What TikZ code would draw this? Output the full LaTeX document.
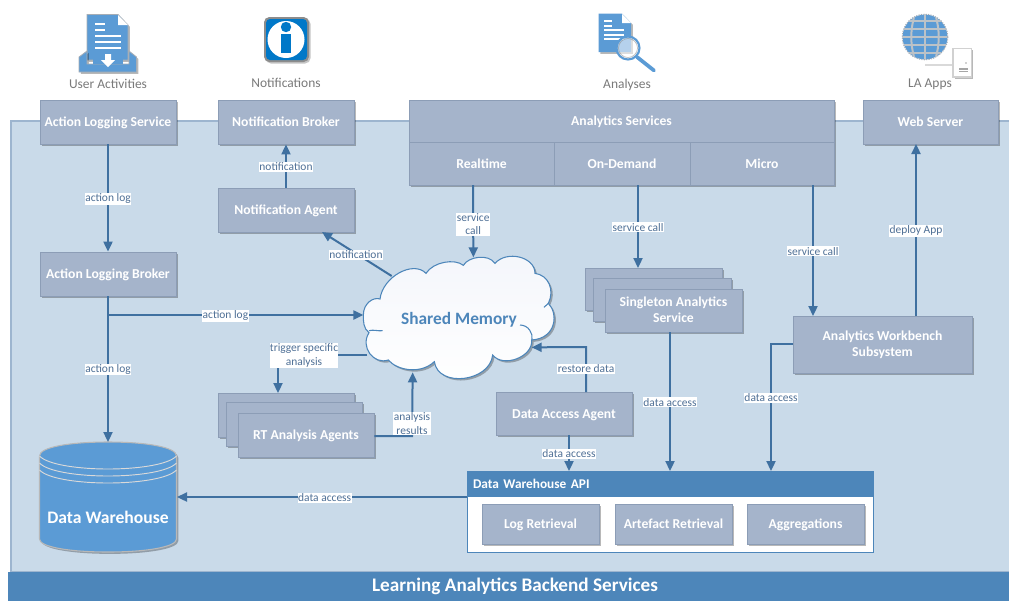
\documentclass[tikz,border=0pt]{standalone}
\usepackage{fontspec}
\setmainfont{Carlito}
\usetikzlibrary{arrows.meta,shadows,calc}
\definecolor{boxfill}{HTML}{A5B4CB}
\definecolor{boxline}{HTML}{8C9DB6}
\definecolor{bgfill}{HTML}{C9DAE9}
\definecolor{bgline}{HTML}{9DB5CF}
\definecolor{band}{HTML}{4D86BA}
\definecolor{wire}{HTML}{3F70A0}
\definecolor{ltext}{HTML}{4F7096}
\definecolor{iconblue}{HTML}{5B9BD5}
\definecolor{icongrey}{HTML}{A6ADB5}
\definecolor{notif}{HTML}{0078C8}
\definecolor{cloudtop}{HTML}{F4F6FB}
\tikzset{
  softshadow/.style={drop shadow={shadow xshift=1.4pt,shadow yshift=-1.4pt,fill=black,opacity=.28}},
  svcbox/.style={draw=boxline,line width=.7pt,fill=boxfill,text=white,font=\bfseries\fontsize{10.25}{12}\selectfont,align=center,inner sep=0pt,softshadow,execute at begin node={\vphantom{Ag}\rule{0pt}{9pt}}},
  twoline/.style={execute at begin node={\vphantom{Ag}}},
  plainbox/.style={draw=boxline,line width=.7pt,fill=boxfill,inner sep=0pt,softshadow},
  wired/.style={draw=wire,line width=1.5pt,-{Triangle[length=7.5pt,width=6.8pt]}},
  lbl/.style={fill=white,text=ltext,font=\fontsize{8.6}{10.2}\selectfont,align=center,inner xsep=.3pt,inner ysep=.6pt,yshift=-.6pt},
  toplabel/.style={text=black!52,font=\fontsize{10.1}{12}\selectfont,inner sep=0pt},
}
\newcommand{\bx}[6]{\node[#1,minimum width=#5*0.75pt-#3*0.75pt,minimum height=#6*0.75pt-#4*0.75pt] (#2) at ({(#3+#5)/2},{(#4+#6)/2})}
\begin{document}
\begin{tikzpicture}[x=0.75pt,y=-0.75pt]
\useasboundingbox (0,0) rectangle (1009,601);
% background
\fill[white] (0,0) rectangle (1009,601);
\node[draw=bgline,fill=bgfill,line width=.8pt,inner sep=0pt,minimum width=1010*0.75pt,minimum height=451*0.75pt] (bg) at (516,346.5) {};
\node[fill=band,text=white,font=\bfseries\fontsize{14.4}{17}\selectfont,inner sep=0pt,minimum width=1001*0.75pt,minimum height=29*0.75pt] (footer) at (508.5,586.5) {\hspace*{9.75pt}Learning Analytics Backend Services};

% boxes
\bx{svcbox}{als}{40}{100}{176}{144} {Action Logging Service};
\bx{svcbox}{nb}{218}{100}{354}{144} {Notification Broker};
\bx{svcbox}{na}{218}{188}{354}{232} {Notification Agent};
\bx{svcbox}{alb}{40}{252}{176}{296} {Action Logging Broker};
\bx{svcbox}{ws}{863}{100}{998}{144} {Web Server};
% analytics group
\bx{svcbox}{as}{409}{100}{834}{142} {Analytics Services};
\bx{svcbox}{rt}{409}{142}{554}{185} {Realtime};
\bx{svcbox}{od}{554}{142}{690}{185} {On-Demand};
\bx{svcbox}{mi}{690}{142}{834}{185} {Micro};
% singleton stack
\bx{plainbox}{sa}{585}{268}{722}{310} {};
\bx{plainbox}{sb}{593}{278}{731}{321} {};
\bx{svcbox,twoline}{sg}{605}{289}{742}{332} {Singleton Analytics\\Service};
% RT stack
\bx{plainbox}{ra}{218}{393}{354}{437} {};
\bx{plainbox}{rb}{226}{402}{362}{446} {};
\bx{svcbox}{rta}{238}{413}{374}{457} {RT Analysis Agents};
\bx{svcbox}{daa}{496}{392}{632}{435} {Data Access Agent};
\bx{svcbox}{awb}{793}{316}{972}{373} {Analytics Workbench\\Subsystem};
% API
\bx{draw=band,fill=white,line width=.7pt,inner sep=0pt}{api}{467}{471}{873}{552} {};
\node[draw=band,fill=band,line width=.7pt,text=white,font=\bfseries\fontsize{10}{12}\selectfont,inner sep=0pt,minimum width=406*0.75pt,minimum height=25*0.75pt,text width=394*0.75pt,align=left] (apih) at (670,483.5) {Data Warehouse API};
\bx{svcbox}{lr}{482}{504}{599}{544} {Log Retrieval};
\bx{svcbox}{ar}{615}{504}{732}{544} {Artefact Retrieval};
\bx{svcbox}{ag}{747}{504}{864}{544} {Aggregations};

% cylinder
\path[draw=black!28,line width=.8pt,fill=iconblue,softshadow]
  (39.5,456) .. controls (39.5,447) and (70,442) .. (108,442) .. controls (146,442) and (176.5,447) .. (176.5,456)
  -- (176.5,539) .. controls (176.5,547) and (146,552) .. (108,552) .. controls (70,552) and (39.5,547) .. (39.5,539) -- cycle;
\foreach \yy in {456,463,470}
  \draw[black!15,line width=.7pt] (39.5,\yy) .. controls (48,\yy+9) and (80,\yy+13) .. (108,\yy+13) .. controls (136,\yy+13) and (168,\yy+9) .. (176.5,\yy);
\node[text=white,font=\bfseries\fontsize{13.2}{16}\selectfont,inner sep=0pt] (dw) at (108,517) {Data Warehouse};
\coordinate (dwtop) at (108,442);
\coordinate (dwright) at (177,497);

% cloud
\begin{scope}[shift={(340,240)},x=0.25pt,y=-0.25pt]
\path[draw=band,line width=.8pt,top color=cloudtop,bottom color=white,softshadow]
 (70,225) .. controls (70,190) and (100,170) .. (120,177)
 .. controls (128,110) and (220,60) .. (258,100)
 .. controls (280,65) and (345,55) .. (370,76)
 .. controls (385,50) and (445,40) .. (465,70)
 .. controls (500,30) and (585,50) .. (585,100)
 .. controls (625,105) and (645,150) .. (625,190)
 .. controls (655,220) and (650,295) .. (575,300)
 .. controls (580,350) and (490,385) .. (458,345)
 .. controls (450,425) and (295,445) .. (283,365)
 .. controls (240,405) and (170,390) .. (145,360)
 .. controls (100,375) and (60,320) .. (87,278)
 .. controls (70,265) and (70,245) .. (70,225) -- cycle;
\draw[band,line width=.8pt] (87,272) .. controls (100,268) and (115,274) .. (128,272);
\draw[band,line width=.8pt] (540,255) .. controls (565,255) and (580,280) .. (576,300);
\draw[band,line width=.8pt] (625,190) .. controls (620,195) and (618,198) .. (612,202);
\coordinate (cl) at (70,225);
\coordinate (ct) at (400,52);
\coordinate (cb) at (218,397);
\coordinate (cr) at (575,322);
\coordinate (cn) at (155,108);
\coordinate (ctr) at (82,345);
\end{scope}
\node[text=band,font=\bfseries\fontsize{13}{16}\selectfont,inner sep=0pt] (sm) at (459,320) {Shared Memory};

% connectors
\draw[wired] (als.south) -- (alb.north) node[lbl,pos=.5] (l1) {action log};
\draw[wired] (alb.south) -- (dwtop) node[lbl,pos=.495] (l2) {action log};
\draw[wired] (alb.south |- 0,315) -- (cl |- 0,315) node[lbl,pos=.46] (l3) {action log};
\draw[wired] (na.north) -- (nb.south) node[lbl,pos=.5] (l4) {notification};
\draw[wired] (cn) -- (322,232);
\node[lbl] (l5) at (356,254) {notification};
\draw[wired] (473,185) -- (ct) node[lbl,pos=.53] (l6) {service\\call};
\draw[wired] (638,185) -- (638,268) node[lbl,pos=.5] (l7) {service call};
\draw[wired] (813,185) -- (813,316) node[lbl,pos=.5] (l8) {service call};
\draw[wired] (916,316) -- (916,144) node[lbl,pos=.5] (l9) {deploy App};
\draw[wired] (ctr) -- (278,355) -- (278,393);
\node[lbl] (l10) at (304,354.5) {trigger specific\\analysis};
\draw[wired] (rta.east |- 0,436) -- (412,436) -- (cb);
\node[lbl] (l11) at (412,423) {analysis\\results};
\draw[wired] (586,392) -- (586,347) -- (cr);
\node[lbl] (l12) at (586,368) {restore data};
\draw[wired] (569,435) -- (569,471) node[lbl,pos=.5] (l13) {data access};
\draw[wired] (670,332) -- (670,471) node[lbl,pos=.5] (l14) {data access};
\draw[wired] (793,344) -- (771,344) -- (771,471);
\node[lbl] (l15) at (771,397) {data access};
\draw[wired] (api.west |- 0,497) -- (dwright) node[lbl,pos=.49] (l16) {data access};

% top labels
\node[toplabel] (t1) at (108,84) {User Activities};
\node[toplabel] (t2) at (286,83) {Notifications};
\node[toplabel] (t3) at (627,84.5) {Analyses};
\node[toplabel] (t4) at (930,84) {LA Apps};

% icon: user activities
\path[fill=iconblue,draw=icongrey,line width=.6pt,softshadow] (87,14.5) -- (118,14.5) -- (128,25) -- (128,60) -- (87,60) -- cycle;
\fill[white] (118,15) -- (128,25) -- (118,25) -- cycle;
\foreach \xa/\xb/\yy in {95/105/24,95/105/30,95/121/36,95/121/42,95/121/48}
  \draw[white,line width=.9pt] (\xa,\yy) -- (\xb,\yy);
\path[fill=iconblue,draw=icongrey,line width=.6pt,softshadow] (79,57) -- (87,51) -- (87,64) -- (129,64) -- (129,51) -- (136.5,57) -- (136.5,72) -- (79,72) -- cycle;
\fill[iconblue] (93,64) -- (93,56) -- (123,56) -- (123,64) -- cycle;
\fill[white] (105,54) -- (111,54) -- (111,60) -- (115,60) -- (108,67) -- (101,60) -- (105,60) -- cycle;

% icon: notifications
\fill[black!45,rounded corners=4pt] (264,17) rectangle (309,62);
\fill[black!45,rounded corners=4pt,opacity=.5] (265.5,18.5) rectangle (310.5,63.5);
\fill[notif,rounded corners=3pt] (266,19) rectangle (307,60);
\fill[white] (286,39.5) circle (18.5);
\fill[notif] (286,27) circle (5.2);
\fill[notif] (281,33.5) rectangle (291,53);

% icon: analyses
\path[fill=iconblue,softshadow] (598.5,13.5) -- (622,13.5) -- (631,23) -- (631,52) -- (598.5,52) -- cycle;
\fill[white] (622,14) -- (631,23) -- (622,23) -- cycle;
\foreach \xb/\yy in {612/21,612/26,624/30,624/35,624/39}
  \draw[white,line width=.8pt] (604,\yy) -- (\xb,\yy);
\fill[white,opacity=.55] (628,48) circle (11);
\draw[iconblue,line width=1.6pt] (628,48) circle (11.5);
\draw[iconblue,line width=2.8pt,line cap=round] (637,57) -- (654,70.5);
\draw[black!45,line width=.5pt,opacity=.6] (628,48) circle (9.5);

% icon: globe
\fill[iconblue] (925,37) circle (22.5);
\begin{scope}
\clip (925,37) circle (22.5);
\foreach \d in {-18,-9,0,9,18} \draw[icongrey!75!white,line width=1.5pt] (925+\d,10) .. controls (925+1.7*\d,30) and (925+1.7*\d,44) .. (925+\d,64);
\foreach \d in {-16,-8,0,8,16} \draw[icongrey!75!white,line width=1.5pt] (900,37+\d) -- (950,37+\d);
\end{scope}
\draw[icongrey,line width=.8pt,densely dotted] (925,37) circle (22.8);
\draw[black!15,line width=1pt] (925,65) -- (953,65);
\path[fill=white,draw=black!18,line width=.8pt,softshadow] (953,48.5) rectangle (971.5,77);
\fill[black!35] (959,68) rectangle (968,69.5);
\fill[black!35] (959,70.5) rectangle (968,72);
\fill[black!35] (966,63) circle (.8);
\end{tikzpicture}
\end{document}
